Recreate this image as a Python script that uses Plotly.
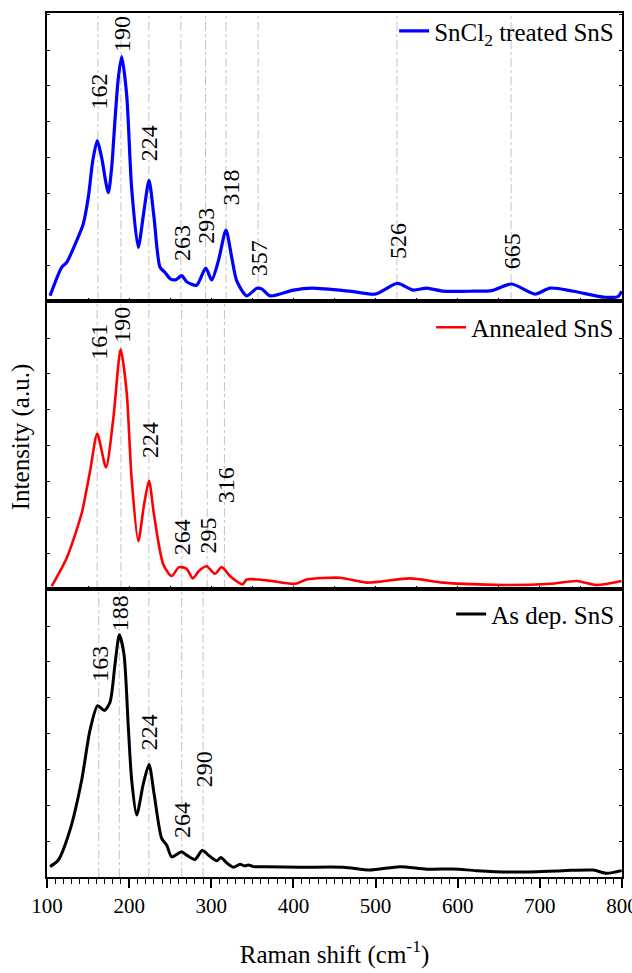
import plotly.graph_objects as go

# ---------------- data ----------------
blue_x = [103.7, 117.9, 124, 136, 144, 150.3, 155.6, 161.2, 166.6, 174.6, 178.7, 182.8, 186.8, 190.9,
          197, 203, 211, 218, 224.2, 230.3, 237.6, 243.7, 250.6, 257, 264, 270, 282.2, 293.2, 300.5,
          308.6, 317.9, 324.9, 331, 343, 355.3, 361.4, 371.5, 399.9, 422.3, 468.9, 499.3, 526.5,
          546, 562.2, 582.5, 619, 641.4, 665.7, 694.1, 712.4, 740.8, 779.3, 795.5, 799.6]
blue_y = [1.8, 11.7, 13.4, 20.9, 26.6, 36, 48.5, 55.7, 49.7, 37.6, 46.3, 63, 77.4, 84.9,
          71.6, 39.4, 18.6, 31.2, 41.9, 29, 11.7, 9.9, 7.6, 7.4, 8.8, 6.7, 5.5, 11.4, 7.3,
          13.9, 24.6, 15.1, 7, 1.8, 4.4, 4.2, 1.8, 3.8, 4.5, 3.4, 2.4, 6.1,
          3.8, 4.5, 3.4, 3.4, 3.6, 5.9, 2.4, 4.5, 3.4, 1.3, 1.6, 3.4]

red_x = [105.7, 124, 142.2, 152.3, 161.2, 171.8, 180.7, 189.7, 197, 203, 211.1, 218.1, 224.2, 230.3,
         241.6, 251.8, 260.7, 270, 277.4, 285.4, 294.4, 304.5, 312.6, 322.8, 328.9, 338.2, 343.1,
         367.5, 401.9, 416.2, 456.7, 489.2, 541.9, 582.5, 655.5, 712.4, 744.9, 769.2, 799.6]
red_y = [1, 10.8, 26.3, 40.7, 53.9, 42.2, 59.1, 83.2, 68.3, 38.4, 16.6, 29.2, 37.6, 25.7,
         8.5, 4.5, 7.6, 7, 3.7, 6.4, 7.9, 5.3, 7.6, 4.5, 3.1, 1.6, 3.3,
         3, 1.8, 3.3, 3.9, 2.2, 3.7, 2.2, 1.4, 1.8, 2.8, 1.4, 2.8]

black_x = [103.7, 113.8, 128, 142.2, 152.3, 161.7, 169.8, 176.7, 182.8, 188.1, 193.7, 199, 203.1,
           209.2, 217.3, 224.2, 230.3, 239.6, 245.7, 251.8, 264, 270, 280.2, 289.1, 296.4, 306.6,
           311.8, 318.8, 326.8, 335, 341, 345.1, 351.2, 367.5, 408, 460.7, 493.2, 529.8, 562.2,
           594.7, 623.1, 671.8, 728.5, 765, 781.4, 799.6]
black_y = [3.6, 5.9, 16.3, 33.6, 50.9, 59.5, 57.8, 60.7, 73.9, 84.1, 77.4, 52, 33.6,
           21.5, 32.4, 39.1, 29, 13.4, 11.1, 7, 8.8, 7.6, 6.1, 9.3, 7.6, 5.6,
           6.8, 4.9, 3.4, 4.4, 3.8, 4.2, 3.6, 3.6, 3.4, 3.4, 2.4, 3.6, 2.7,
           2.8, 2.2, 1.7, 2.2, 2.4, 1.3, 2.2]

names = ["SnCl<sub>2</sub> treated SnS", "Annealed SnS", "As dep. SnS"]

peaks_top = [162, 190, 224, 263, 293, 318, 357, 526, 665]
label_y_top = [72.7, 92.7, 54.7, 20.1, 26, 39.4, 14.9, 20.8, 17.3]
peaks_mid = [161, 190, 224, 264, 295, 316]
label_y_mid = [85.9, 91.7, 51.7, 17.9, 18.6, 36.2]
peaks_bot = [163, 188, 224, 264, 290]
label_y_bot = [74, 91.7, 50.2, 19.7, 37.4]

x_ticks = [100, 200, 300, 400, 500, 600, 700, 800]

# ---------------- figure ----------------
FONT = "Liberation Serif"
fig = go.Figure()

panels = [
    (blue_x, blue_y, "#0000ff", 3.2, "x3", "y3", "legend", names[0]),
    (red_x, red_y, "#ff0000", 2.6, "x2", "y2", "legend2", names[1]),
    (black_x, black_y, "#000000", 3.0, "x", "y", "legend3", names[2]),
]
for xs, ys, col, w, xa, ya, lg, nm in panels:
    fig.add_trace(go.Scatter(x=xs, y=ys, mode="lines", name=nm,
                             line=dict(color=col, width=w, shape="spline", smoothing=0.7),
                             xaxis=xa, yaxis=ya, legend=lg))

shapes = []
annotations = []
for peaks, ly, xa, ya in [(peaks_top, label_y_top, "x3", "y3"),
                          (peaks_mid, label_y_mid, "x2", "y2"),
                          (peaks_bot, label_y_bot, "x", "y")]:
    for p, yy in zip(peaks, ly):
        shapes.append(dict(type="line", xref=xa, yref=ya + " domain", x0=p, x1=p, y0=0, y1=1,
                           line=dict(color="#c4c4c4", width=1, dash="dashdot"), layer="below"))
        annotations.append(dict(x=p, y=yy, xref=xa, yref=ya, text=str(p), showarrow=False,
                                textangle=-90, xshift=4 if p == 318 else 1,
                                font=dict(family=FONT, size=24, color="black")))

annotations.append(dict(x=0, y=0.509, xref="paper", yref="paper", xshift=-26, xanchor="center",
                        yanchor="middle", text="Intensity (a.u.)", showarrow=False, textangle=-90,
                        font=dict(family=FONT, size=25, color="black")))

axis_common = dict(showline=True, linecolor="black", linewidth=2, mirror=True,
                   showgrid=False, zeroline=False)
yaxis_common = dict(axis_common, range=[0, 100], ticks="inside", ticklen=3, tickwidth=1,
                    tickcolor="black", dtick=12.45, tick0=0, showticklabels=False, mirror="ticks")
xsmall = dict(axis_common, range=[100, 800], ticks="inside", ticklen=3, tickwidth=1,
              tickcolor="black", dtick=50, tick0=100, showticklabels=False, matches="x")

fig.update_layout(
    width=632, height=973,
    margin=dict(l=47, r=10, t=8, b=96),
    paper_bgcolor="white", plot_bgcolor="white",
    font=dict(family=FONT, color="black"),
    xaxis=dict(axis_common, range=[100, 800], anchor="y", tickvals=x_ticks,
               ticks="outside", ticklen=9, tickwidth=1.5, tickcolor="black",
               ticklabeloverflow="allow", automargin=False,
               tickfont=dict(family=FONT, size=21, color="black"),
               minor=dict(ticks="outside", ticklen=5, dtick=10, tick0=100, tickcolor="black", tickwidth=1),
               title=dict(text="Raman shift (cm<sup>-1</sup>)", standoff=28,
                          font=dict(family=FONT, size=25, color="black"))),
    xaxis2=dict(xsmall, anchor="y2"),
    xaxis3=dict(xsmall, anchor="y3"),
    yaxis=dict(yaxis_common, domain=[0, 1/3], anchor="x"),
    yaxis2=dict(yaxis_common, domain=[1/3, 2/3], anchor="x2"),
    yaxis3=dict(yaxis_common, domain=[2/3, 1], anchor="x3"),
    shapes=shapes,
    annotations=annotations,
    legend=dict(x=0.995, y=0.979, xanchor="right", yanchor="middle", bgcolor="rgba(0,0,0,0)",
                font=dict(family=FONT, size=25, color="black")),
    legend2=dict(x=0.995, y=0.636, xanchor="right", yanchor="middle", bgcolor="rgba(0,0,0,0)",
                 font=dict(family=FONT, size=25, color="black")),
    legend3=dict(x=0.995, y=0.304, xanchor="right", yanchor="middle", bgcolor="rgba(0,0,0,0)",
                 font=dict(family=FONT, size=25, color="black")),
    showlegend=True,
)

fig.write_html("out.html", config={"displayModeBar": False},
               post_script="document.body.style.margin='0';")
